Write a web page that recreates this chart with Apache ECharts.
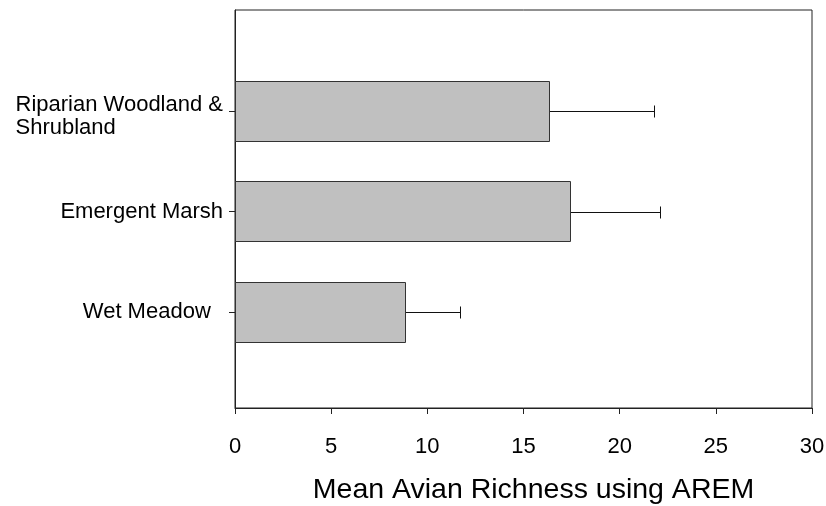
<!DOCTYPE html>
<html>
<head>
<meta charset="utf-8">
<script src="https://cdn.jsdelivr.net/npm/echarts@6/dist/echarts.min.js"></script>
<style>html,body{margin:0;padding:0;background:#fff;}#c{width:826px;height:506px;}</style>
</head>
<body>
<div id="c"></div>
<script>
// Data (bottom to top)
const categories = ['Wet Meadow', 'Emergent Marsh', 'Riparian Woodland &\nShrubland'];
const means = [8.86, 17.44, 16.33];
const errors = [2.84, 4.66, 5.47];
const xTicks = [0, 5, 10, 15, 20, 25, 30];
const xTitle = 'Mean Avian Richness using AREM';

const FONT = 'Arial, "Liberation Sans", Helvetica, sans-serif';
const catPos = categories.map((c, i) => i + 1);
const seriesData = categories.map((c, i) => [means[i], catPos[i], errors[i]]);

const chart = echarts.init(document.getElementById('c'), null, {renderer: 'canvas'});
chart.setOption({
  animation: false,
  backgroundColor: '#fff',
  grid: {left: 235, right: 14, top: 10, bottom: 98, show: true, borderColor: '#222', borderWidth: 1, backgroundColor: 'transparent', containLabel: false, outerBoundsMode: 'none'},
  xAxis: {
    type: 'value', min: xTicks[0], max: xTicks[xTicks.length - 1], interval: 5,
    axisLine: {show: true, lineStyle: {color: '#222', width: 1}},
    axisTick: {show: true, inside: false, length: 6, lineStyle: {color: '#222'}},
    splitLine: {show: false},
    axisLabel: {color: '#000', fontFamily: FONT, fontSize: 22, margin: 28},
    name: xTitle, nameLocation: 'middle', nameGap: 68,
    nameTextStyle: {color: '#000', fontFamily: FONT, fontSize: 28.5, padding: [0, 0, 0, 20]}
  },
  yAxis: {
    type: 'value', min: 0.05, max: 4,
    axisLine: {show: true, lineStyle: {color: '#222', width: 1}},
    axisTick: {show: true, inside: false, length: 6, customValues: catPos, lineStyle: {color: '#222'}},
    splitLine: {show: false},
    axisLabel: {
      customValues: catPos, margin: 12, color: '#000', fontFamily: FONT, fontSize: 22, lineHeight: 23,
      formatter: function (v) {
        const idx = Math.round(v) - 1;
        const lab = categories[idx];
        if (lab === undefined) return '';
        if (lab.indexOf('\n') >= 0) {
          const parts = lab.split('\n');
          return '{c|}\n{a|' + parts[0] + '}\n{a|' + parts[1] + '}';
        }
        if (idx === 0) return lab + '  ';
        return lab;
      },
      rich: {
        a: {align: 'left', fontFamily: FONT, fontSize: 22, lineHeight: 23, height: 23, color: '#000'},
        c: {align: 'left', fontFamily: FONT, fontSize: 22, lineHeight: 12, height: 12, color: '#000'}
      }
    }
  },
  series: [{
    type: 'custom',
    data: seriesData,
    encode: {x: 0, y: 1},
    renderItem: function (params, api) {
      const v = api.value(0), y = api.value(1), e = api.value(2);
      const p0 = api.coord([0, y]);
      const p1 = api.coord([v, y]);
      const p2 = api.coord([v + e, y]);
      const h = api.size([0, 0.6])[1];
      const yc = Math.round(p0[1]) + 0.5;
      const top = Math.round(p0[1] - h / 2) + 0.5;
      const bh = Math.round(h);
      const x0 = Math.round(p0[0]) + 0.5;
      const x1 = Math.round(p1[0]) + 0.5;
      const x2 = Math.round(p2[0]) + 0.5;
      return {
        type: 'group',
        children: [
          {type: 'line', shape: {x1: x1, y1: yc, x2: x2, y2: yc}, style: {stroke: '#111', lineWidth: 1}},
          {type: 'line', shape: {x1: x2, y1: yc - 6, x2: x2, y2: yc + 6}, style: {stroke: '#111', lineWidth: 1}},
          {type: 'rect', shape: {x: x0, y: top, width: x1 - x0, height: bh}, style: {fill: '#c0c0c0', stroke: '#333', lineWidth: 1}}
        ]
      };
    }
  }]
});
</script>
</body>
</html>
